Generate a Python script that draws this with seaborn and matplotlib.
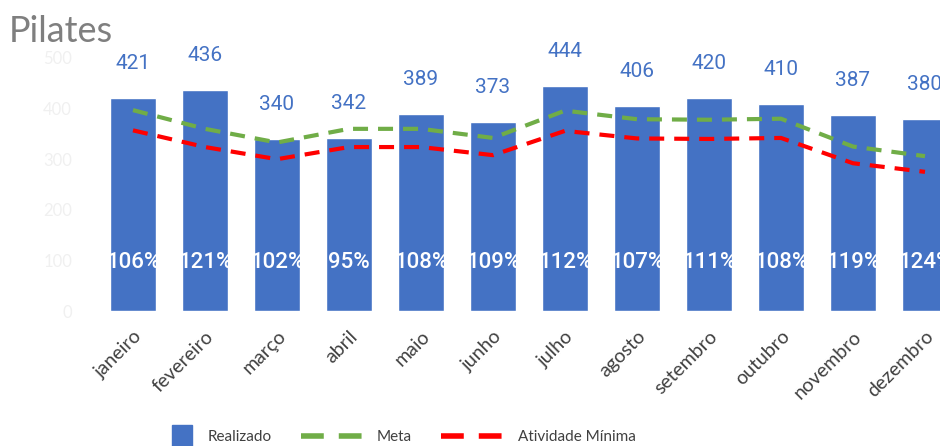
import numpy as np
import pandas as pd
import matplotlib
matplotlib.use("Agg")
import matplotlib.pyplot as plt
import matplotlib.patches as mpatches
import seaborn as sns
from matplotlib.lines import Line2D
from matplotlib.legend_handler import HandlerPatch

# dados
meses = ['janeiro', 'fevereiro', 'março', 'abril', 'maio', 'junho',
         'julho', 'agosto', 'setembro', 'outubro', 'novembro', 'dezembro']
realizado = [421, 436, 340, 342, 389, 373, 444, 406, 420, 410, 387, 380]
meta = [397, 360, 333, 360, 360, 342, 396, 379, 378, 380, 325, 306]
atividade_minima = [357, 324, 300, 324, 324, 308, 356, 341, 340, 342, 292, 275]
pct = ['106%', '121%', '102%', '95%', '108%', '109%',
       '112%', '107%', '111%', '108%', '119%', '124%']

azul = '#4472C4'
verde = '#70AD47'
vermelho = '#FF0000'

sns.set_style('white')
plt.rcParams['font.family'] = ['Lato', 'DejaVu Sans']

df = pd.DataFrame({'mes': meses, 'Realizado': realizado})

fig = plt.figure(figsize=(9.4, 4.46), dpi=100)
ax = fig.add_axes([97 / 940, 135 / 446, (940 - 97) / 940, (388 - 135) / 446])

sns.barplot(data=df, x='mes', y='Realizado', color=azul, saturation=1,
            width=0.63, ax=ax)

x = np.arange(len(meses))
ax.plot(x, meta, color=verde, lw=3, dashes=(3.6, 2.4))
ax.plot(x, atividade_minima, color=vermelho, lw=3, dashes=(3.6, 2.4))

# rótulos de valor
for i, v in enumerate(realizado):
    ax.annotate(str(v), (i, v), xytext=(0, 18), textcoords='offset points',
                ha='center', va='bottom', color=azul, fontsize=15,
                family=['Roboto', 'DejaVu Sans'], annotation_clip=False)
    ax.text(i, 95, pct[i], ha='center', va='center', color='white',
            fontsize=16, fontweight='medium', family=['Roboto', 'DejaVu Sans'])

ax.set_xlim(-0.5, (940 - 133) / 72)
ax.set_ylim(0, 500)
ax.set_yticks([0, 100, 200, 300, 400, 500])
ax.set_xlabel('')
ax.set_ylabel('')
ax.tick_params(axis='y', colors='#F0F0F0', labelsize=12, pad=18, length=0)
ax.tick_params(axis='x', labelsize=14, labelcolor='#404040', length=0, pad=12)
plt.setp(ax.get_xticklabels(), rotation=45, ha='right', rotation_mode='anchor')
sns.despine(ax=ax, left=True, bottom=True)

fig.text(0.009, 1 - 42 / 446, 'Pilates', fontsize=26, color='#7F7F7F',
         va='baseline', ha='left')


# quadrado azul encostado no texto da legenda
def quadrado(legend, orig_handle, xdescent, ydescent, width, height, fontsize):
    w, h = 14.4, 15.8
    return mpatches.Rectangle((width - w - xdescent, height / 2 - h / 2 - ydescent), w, h)


handles = [
    mpatches.Rectangle((0, 0), 1, 1, color=azul),
    Line2D([], [], color=verde, lw=4, dashes=(4.1, 2.7)),
    Line2D([], [], color=vermelho, lw=4, dashes=(4.1, 2.7)),
]
fig.legend(handles, ['Realizado', 'Meta', 'Atividade Mínima'], loc='center left',
           bbox_to_anchor=((131 - 6) / 940, 1 - 437 / 446), ncol=3, frameon=False,
           fontsize=11, handlelength=4.0, handletextpad=1.0, columnspacing=1.9,
           borderaxespad=0, labelcolor='#404040',
           handler_map={mpatches.Rectangle: HandlerPatch(patch_func=quadrado)})

fig.savefig('out.png', dpi=100)
